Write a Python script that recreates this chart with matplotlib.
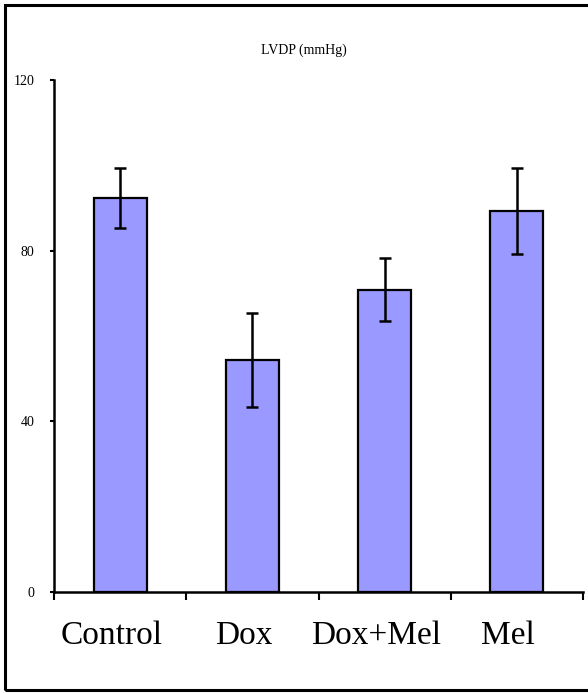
import numpy as np
import matplotlib.pyplot as plt
import matplotlib.transforms as mtransforms
from matplotlib.patches import Rectangle

# Data
groups = ['Control', 'Dox', 'Dox+Mel', 'Mel']
lvdp = [92.3, 54.4, 70.8, 89.3]
sem = [7.0, 11.0, 7.4, 10.0]
yticks = [0, 40, 80, 120]

plt.rcParams['font.family'] = ['Liberation Serif', 'DejaVu Serif']

fig = plt.figure(figsize=(5.88, 6.93), dpi=100)
ax = fig.add_axes([54/588, 1-592/693, (583-54)/588, (592-80)/693])

x = np.arange(len(groups))
ax.bar(x, lvdp, width=0.4, color='#9999ff', edgecolor='black', linewidth=1.6, zorder=2)
ax.errorbar(x, lvdp, yerr=sem, fmt='none', ecolor='black', elinewidth=1.8,
            capsize=4, capthick=1.8, zorder=3)

ax.set_xlim(-0.5, len(groups) - 0.5)
ax.set_ylim(0, 120)

# category boundary ticks on x axis
ax.set_xticks(np.arange(len(groups) + 1) - 0.5)
ax.set_xticklabels([])
ax.tick_params(axis='x', direction='out', length=6, width=1.5)
for xi, g in zip(x, groups):
    ax.text(xi, -10.3, g, ha='center', va='center', fontsize=24,
            transform=ax.transData + mtransforms.ScaledTranslation(-0.09, 0, fig.dpi_scale_trans))

ax.set_yticks(yticks)
ax.set_yticklabels([str(v) for v in yticks], fontsize=10)
ax.tick_params(axis='y', direction='out', length=3, width=1.5, pad=11)

ax.spines['top'].set_visible(False)
ax.spines['right'].set_visible(False)
ax.spines['left'].set_linewidth(1.8)
ax.spines['bottom'].set_linewidth(1.8)

fig.text(304/588, 1-50/693, 'LVDP (mmHg)', ha='center', va='center', fontsize=10)

# outer frame
fig.patches.append(Rectangle((5/588, 3/693), 1.05, 1-8/693, transform=fig.transFigure,
                             fill=False, edgecolor='black', linewidth=2.2))

fig.savefig('out.png', dpi=100)
